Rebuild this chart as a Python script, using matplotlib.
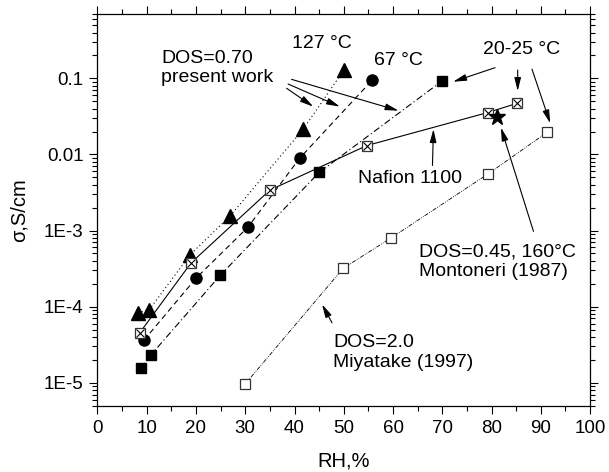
import numpy as np
import matplotlib.pyplot as plt
from matplotlib.ticker import LogLocator, NullFormatter, MultipleLocator

plt.rcParams['font.family'] = ['Liberation Sans', 'DejaVu Sans']

# DOS=0.70, 127 C
tri_rh = [8.2, 10.5, 18.8, 26.9, 41.8, 50.0]
tri_sig = [8.3e-5, 9.1e-5, 4.8e-4, 1.55e-3, 2.16e-2, 0.128]
# DOS=0.70, 67 C
cir_rh = [9.4, 20.1, 30.5, 41.1, 55.8]
cir_sig = [3.6e-5, 2.4e-4, 1.1e-3, 9.0e-3, 0.095]
# DOS=0.70, 20-25 C
sq_rh = [8.8, 10.8, 24.9, 45.0, 70.0]
sq_sig = [1.55e-5, 2.3e-5, 2.57e-4, 5.8e-3, 0.093]
# Nafion 1100
naf_rh = [8.6, 19.0, 35.0, 54.7, 79.2, 85.2]
naf_sig = [4.55e-5, 3.76e-4, 3.4e-3, 1.31e-2, 3.55e-2, 4.7e-2]
# Montoneri (1987)
mon_rh = [81.0]
mon_sig = [3.08e-2]
# Miyatake (1997)
miy_rh = [29.9, 49.9, 59.6, 79.2, 91.3]
miy_sig = [9.5e-6, 3.2e-4, 8.0e-4, 5.5e-3, 1.96e-2]

ytick_vals = [1e-5, 1e-4, 1e-3, 1e-2, 1e-1]
ytick_labels = ['1E-5', '1E-4', '1E-3', '0.01', '0.1']

fig = plt.figure(figsize=(6.09, 4.72), dpi=100)
ax = fig.add_axes([0.160, 0.1405, 0.809, 0.8298])

lw = 0.8
ax.plot(tri_rh, tri_sig, color='k', lw=lw, ls=(0, (1, 2.5)), marker='^', ms=9.5, mfc='k', mec='k')
ax.plot(cir_rh, cir_sig, color='k', lw=lw, ls=(0, (5, 3.5)), marker='o', ms=8, mfc='k', mec='k')
ax.plot(sq_rh, sq_sig, color='k', lw=lw, ls=(0, (6, 2.5, 1, 2.5)), marker='s', ms=7.5, mfc='k', mec='k')
ax.plot(naf_rh, naf_sig, color='k', lw=lw, ls='-', marker='s', ms=7.5, mfc='white', mec='#333333', mew=0.9)
ax.plot(naf_rh, naf_sig, ls='none', marker='x', ms=5.5, mec='k', mew=0.8)
ax.plot(miy_rh, miy_sig, color='k', lw=0.6, ls=(0, (5, 1.5, 1, 1.5, 1, 1.5)), marker='s', ms=7.5,
        mfc='white', mec='#333333', mew=0.9)
ax.plot(mon_rh, mon_sig, ls='none', marker='*', ms=12, mfc='k', mec='k')

ax.set_xlim(0, 100)
ax.set_ylim(5e-6, 0.7)
ax.set_yscale('log')
ax.set_yticks(ytick_vals)
ax.set_yticklabels(ytick_labels)
ax.yaxis.set_minor_locator(LogLocator(base=10, subs=np.arange(2, 10)))
ax.yaxis.set_minor_formatter(NullFormatter())
ax.xaxis.set_major_locator(MultipleLocator(10))
ax.xaxis.set_minor_locator(MultipleLocator(5))

ax.tick_params(which='both', direction='out', top=True, right=True, width=0.8, labelsize=13.5)
ax.tick_params(which='major', length=6, pad=4)
ax.tick_params(which='minor', length=3.5)
for s in ax.spines.values():
    s.set_linewidth(0.9)

ax.set_xlabel('RH,%', fontsize=14.5, labelpad=11)
ax.set_ylabel('σ,S/cm', fontsize=14.5, labelpad=11)

fs = 14
ax.text(39.5, 0.29, '127 °C', fontsize=fs, va='center', ha='left')
ax.text(56.1, 0.169, '67 °C', fontsize=fs, va='center', ha='left')
ax.text(13.0, 0.136, 'DOS=0.70\npresent work', fontsize=fs, va='center', ha='left', linespacing=1.2)
ax.text(78.3, 0.24, '20-25 °C', fontsize=fs, va='center', ha='left')
ax.text(52.8, 4.8e-3, 'Nafion 1100', fontsize=fs, va='center', ha='left')
ax.text(65.3, 3.9e-4, 'DOS=0.45, 160°C\nMontoneri (1987)', fontsize=fs, va='center', ha='left', linespacing=1.2)
ax.text(47.8, 2.5e-5, 'DOS=2.0\nMiyatake (1997)', fontsize=fs, va='center', ha='left', linespacing=1.2)

arrows = [
    ((38.4, 0.0740), (43.8, 0.0425)),
    ((38.7, 0.0842), (49.2, 0.0425)),
    ((39.4, 0.097), (61.1, 0.0376)),
    ((80.7, 0.138), (72.2, 0.0902)),
    ((85.3, 0.1285), (85.3, 0.0682)),
    ((88.2, 0.132), (91.9, 0.0257)),
    ((88.5, 9.77e-4), (81.9, 0.0225)),
    ((68.0, 7.16e-3), (68.2, 0.0215)),
    ((47.6, 6.15e-5), (45.6, 1.07e-4)),
]
for tail, head in arrows:
    ax.annotate('', xy=head, xytext=tail,
                arrowprops=dict(arrowstyle='-|>,head_length=0.8,head_width=0.2', color='k',
                                lw=0.8, shrinkA=0, shrinkB=0, mutation_scale=10))

fig.savefig('out.png', dpi=100)
